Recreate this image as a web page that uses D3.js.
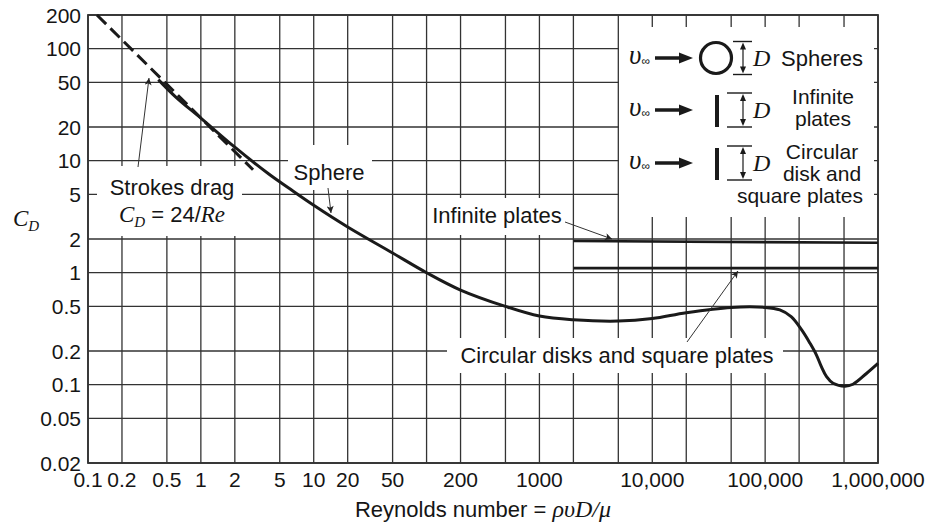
<!DOCTYPE html>
<html>
<head>
<meta charset="utf-8">
<script src="https://cdn.jsdelivr.net/npm/d3@7"></script>
<style>
  body { margin: 0; background: #fff; }
  svg { display: block; }
  text { font-family: "Liberation Sans", Arial, Helvetica, sans-serif; fill: #151515; }
  .it { font-family: "Liberation Serif", "Times New Roman", serif; font-style: italic; }
</style>
</head>
<body>
<svg width="929" height="527"></svg>
<script>
// grid / tick values
const xGrid = [0.1, 0.2, 0.5, 1, 2, 5, 10, 20, 50, 100, 200, 500, 1000, 2000, 5000,
    10000, 20000, 50000, 100000, 200000, 500000, 1000000];
const xLabels = [0.1, 0.2, 0.5, 1, 2, 5, 10, 20, 50, 200, 1000, 10000, 100000, 1000000];
const yGrid = [0.02, 0.05, 0.1, 0.2, 0.5, 1, 2, 5, 10, 20, 50, 100, 200];

// sphere drag curve
const sphereRe = [0.42, 0.6, 1, 2, 4, 6, 10, 20, 50, 100, 200, 500, 1000, 2000, 5000,
    10000, 20000, 50000, 100000, 135000, 170000, 210000, 250000, 285000, 315000,
    350000, 400000, 510000, 600000, 790000, 1000000];
const sphereCd = [53, 37, 24, 13.2, 7.6, 5.7, 4.0, 2.56, 1.5, 1.0, 0.7, 0.5, 0.41, 0.38, 0.37,
    0.39, 0.44, 0.49, 0.49, 0.465, 0.405, 0.31, 0.234, 0.184, 0.145,
    0.118, 0.103, 0.097, 0.101, 0.126, 0.155];

// Stokes drag line end points
const stokesRe = [0.12, 2.9];
const stokesCd = [200, 8.3];

// flat plate lines
const plateRe = [2000, 1000000];
const infiniteCd = [1.92, 1.85];
const diskCd = [1.1, 1.1];

const fmt = d3.format(',');

const svg = d3.select('svg');
const x = d3.scaleLog().domain([0.1, 1e6]).range([88, 878]);
const y = d3.scaleLog().domain([0.02, 200]).range([463, 15]);

const defs = svg.append('defs');
defs.append('marker').attr('id', 'thin').attr('viewBox', '0 0 10 10')
    .attr('refX', 10).attr('refY', 5).attr('markerWidth', 10).attr('markerHeight', 7)
    .attr('markerUnits', 'userSpaceOnUse').attr('orient', 'auto')
    .append('path').attr('d', 'M0,0L10,5L0,10L2.5,5Z').attr('fill', '#222');

// grid
const grid = svg.append('g').attr('stroke', '#333').attr('stroke-width', 1.3);
grid.selectAll('.vx').data(xGrid).enter().append('line')
    .attr('x1', d => x(d)).attr('x2', d => x(d))
    .attr('y1', y(200)).attr('y2', y(0.02));
grid.selectAll('.hy').data(yGrid).enter().append('line')
    .attr('x1', x(0.1)).attr('x2', x(1e6))
    .attr('y1', d => y(d)).attr('y2', d => y(d));
svg.append('rect')
    .attr('x', x(0.1)).attr('y', y(200))
    .attr('width', x(1e6) - x(0.1)).attr('height', y(0.02) - y(200))
    .attr('fill', 'none').attr('stroke', '#333').attr('stroke-width', 1.8);

// white boxes behind labels and legend
const boxes = [
    [97, 166, 145, 70],
    [288, 145, 84, 45],
    [428, 198, 142, 37],
    [447, 338, 336, 35],
    [619, 27, 255, 190]
];
svg.selectAll('.box').data(boxes).enter().append('rect')
    .attr('x', d => d[0]).attr('y', d => d[1])
    .attr('width', d => d[2]).attr('height', d => d[3])
    .attr('fill', '#fff');

// tick labels
svg.selectAll('.xl').data(xLabels).enter().append('text')
    .attr('x', d => x(d)).attr('y', 487)
    .attr('text-anchor', 'middle').style('font-size', '21px')
    .text(d => d >= 10000 ? fmt(d) : d);
svg.selectAll('.yl').data(yGrid).enter().append('text')
    .attr('x', 81).attr('y', d => y(d) + 7.5)
    .attr('text-anchor', 'end').style('font-size', '21px')
    .text(d => d);

// curves
const line = d3.line().x(d => x(d[0])).y(d => y(d[1]));
svg.append('path')
    .datum(stokesRe.map((r, i) => [r, stokesCd[i]]))
    .attr('d', line).attr('fill', 'none').attr('stroke', '#1a1a1a')
    .attr('stroke-width', 3).attr('stroke-dasharray', '13,6');
svg.append('path')
    .datum(sphereRe.map((r, i) => [r, sphereCd[i]]))
    .attr('d', line.curve(d3.curveCatmullRom.alpha(0.5))).attr('fill', 'none').attr('stroke', '#1a1a1a')
    .attr('stroke-width', 3).attr('stroke-linejoin', 'round');
line.curve(d3.curveLinear);
[infiniteCd, diskCd].forEach(cd => {
    svg.append('path')
        .datum(plateRe.map((r, i) => [r, cd[i]]))
        .attr('d', line).attr('fill', 'none').attr('stroke', '#1a1a1a')
        .attr('stroke-width', 2.6);
});

// annotation arrows
const arrows = [
    [138, 167, 149, 78],
    [328, 188, 331, 213],
    [565, 222, 612, 239],
    [687, 342, 738, 271]
];
svg.selectAll('.arr').data(arrows).enter().append('line')
    .attr('x1', d => d[0]).attr('y1', d => d[1])
    .attr('x2', d => d[2]).attr('y2', d => d[3])
    .attr('stroke', '#333').attr('stroke-width', 1)
    .attr('marker-end', 'url(#thin)');

// annotation text
svg.append('text').attr('x', 172).attr('y', 195).attr('text-anchor', 'middle')
    .style('font-size', '22px').text('Strokes drag');
const st = svg.append('text').attr('x', 172).attr('y', 222).attr('text-anchor', 'middle')
    .style('font-size', '22px');
st.append('tspan').attr('class', 'it').style('font-size', '23px').text('C');
st.append('tspan').attr('class', 'it').style('font-size', '15px').attr('dy', 5).text('D');
st.append('tspan').attr('dy', -5).text(' = 24/');
st.append('tspan').attr('class', 'it').style('font-size', '23px').text('Re');

svg.append('text').attr('x', 329).attr('y', 180).attr('text-anchor', 'middle')
    .style('font-size', '22px').text('Sphere');
svg.append('text').attr('x', 497).attr('y', 223).attr('text-anchor', 'middle')
    .style('font-size', '22px').text('Infinite plates');
svg.append('text').attr('x', 617).attr('y', 363).attr('text-anchor', 'middle')
    .style('font-size', '22px').text('Circular disks and square plates');

// axis titles
const yt = svg.append('text').attr('x', 13).attr('y', 226);
yt.append('tspan').attr('class', 'it').style('font-size', '23px').text('C');
yt.append('tspan').attr('class', 'it').style('font-size', '15px').attr('dy', 5).text('D');

const xt = svg.append('text').attr('x', 483).attr('y', 517).attr('text-anchor', 'middle')
    .style('font-size', '22px');
xt.append('tspan').text('Reynolds number = ');
xt.append('tspan').attr('class', 'it').style('font-size', '24px').text('ρυD/μ');

// legend
const lg = svg.append('g');
const rows = [58, 110, 163];
rows.forEach((cy, i) => {
    const vt = lg.append('text').attr('x', 629).attr('y', cy + 6);
    vt.append('tspan').attr('class', 'it').style('font-size', '27px').text('υ');
    vt.append('tspan').style('font-size', '12px').attr('dy', 1).text('∞');
    lg.append('line').attr('x1', 655).attr('x2', 682).attr('y1', cy).attr('y2', cy)
        .attr('stroke', '#1a1a1a').attr('stroke-width', 3.5);
    lg.append('path').attr('d', `M679,${cy - 5.5}L693,${cy}L679,${cy + 5.5}Z`).attr('fill', '#1a1a1a');
    const top = i === 0 ? cy - 16.5 : cy - 17;
    const bot = i === 0 ? cy + 16.5 : cy + 17;
    const dx0 = i === 0 ? 733 : 727;
    if (i === 0) {
        lg.append('circle').attr('cx', 716).attr('cy', cy).attr('r', 15.5)
            .attr('fill', 'none').attr('stroke', '#1a1a1a').attr('stroke-width', 3.2);
    } else {
        lg.append('rect').attr('x', 715).attr('y', top + 2).attr('width', 4).attr('height', bot - top - 2)
            .attr('fill', '#1a1a1a');
    }
    lg.append('line').attr('x1', dx0).attr('x2', 752).attr('y1', top).attr('y2', top)
        .attr('stroke', '#1a1a1a').attr('stroke-width', 1.4);
    lg.append('line').attr('x1', dx0).attr('x2', 752).attr('y1', bot).attr('y2', bot)
        .attr('stroke', '#1a1a1a').attr('stroke-width', 1.4);
    lg.append('line').attr('x1', 743).attr('x2', 743).attr('y1', top + 6).attr('y2', bot - 6)
        .attr('stroke', '#1a1a1a').attr('stroke-width', 1.2);
    lg.append('path').attr('d', `M743,${top + 1}L740,${top + 8}L746,${top + 8}Z`).attr('fill', '#1a1a1a');
    lg.append('path').attr('d', `M743,${bot - 1}L740,${bot - 8}L746,${bot - 8}Z`).attr('fill', '#1a1a1a');
    lg.append('text').attr('class', 'it').attr('x', 753).attr('y', cy + 8)
        .style('font-size', '24px').text('D');
});
lg.append('text').attr('x', 781).attr('y', 66).style('font-size', '22px').text('Spheres');
const lgLines = [
    ['Infinite', 823, 104, 'middle'],
    ['plates', 823, 126, 'middle'],
    ['Circular', 822, 159, 'middle'],
    ['disk and', 822, 181, 'middle'],
    ['square plates', 863, 203, 'end']
];
lg.selectAll('.lt').data(lgLines).enter().append('text')
    .attr('x', d => d[1]).attr('y', d => d[2]).attr('text-anchor', d => d[3])
    .style('font-size', '21px').text(d => d[0]);
</script>
</body>
</html>
